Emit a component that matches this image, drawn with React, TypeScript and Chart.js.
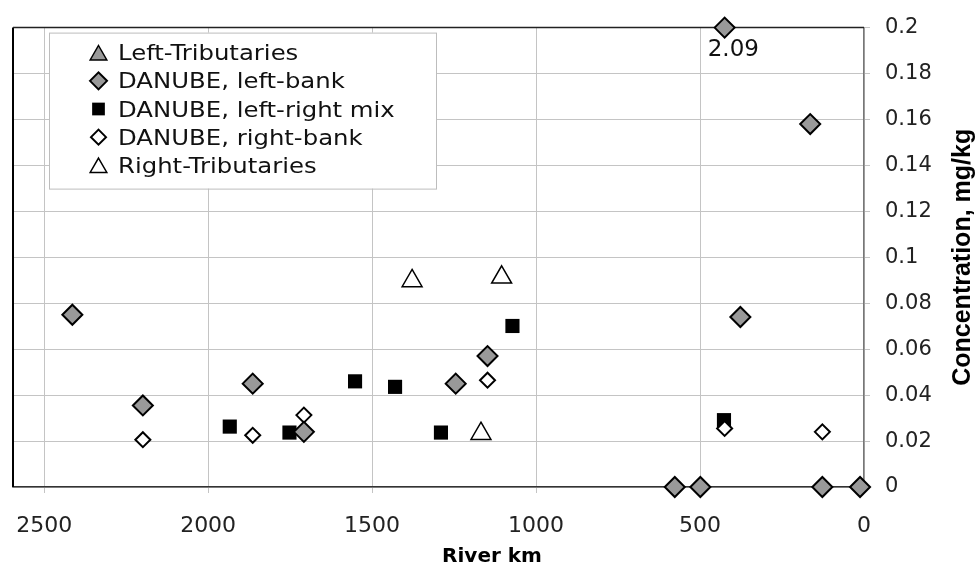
import React, { useEffect, useRef } from 'react';
import { Chart, registerables } from 'chart.js';

Chart.register(...registerables);

// ---------- data ----------
const seriesNames = [
  'Left-Tributaries',
  'DANUBE, left-bank',
  'DANUBE, left-right mix',
  'DANUBE, right-bank',
  'Right-Tributaries',
];

const leftTribKm: number[] = [];
const leftTribVal: number[] = [];

const leftBankKm = [2414, 2199, 1864, 1708, 1245, 1148, 577, 499, 425, 377, 164, 127, 12];
const leftBankVal = [0.075, 0.0355, 0.045, 0.024, 0.045, 0.057, 0, 0, 2.09, 0.074, 0.158, 0, 0];

const mixKm = [1934, 1752, 1552, 1430, 1290, 1072, 427];
const mixVal = [0.0263, 0.0237, 0.046, 0.0436, 0.0237, 0.0701, 0.0291];

const rightBankKm = [2199, 1864, 1708, 1148, 425, 127];
const rightBankVal = [0.0206, 0.0225, 0.0313, 0.0465, 0.0255, 0.024];

const rightTribKm = [1378, 1168, 1105];
const rightTribVal = [0.0897, 0.0232, 0.0913];

const xTicks = [0, 500, 1000, 1500, 2000, 2500];
const yTicks = [0, 0.02, 0.04, 0.06, 0.08, 0.1, 0.12, 0.14, 0.16, 0.18, 0.2];

const X_MIN = 0;
const X_MAX = 2595;
const Y_MIN = 0;
const Y_MAX = 0.2;

const xTitle = 'River km';
const yTitle = 'Concentration, mg/kg';

// ---------- styles ----------
type Sty = { style: string; fill: string; stroke: string; bw: number; r: number; lr: number; order: number };
const styles: Sty[] = [
  { style: 'triangle', fill: '#999999', stroke: '#000', bw: 1.5, r: 11.5, lr: 9.6, order: 0 },
  { style: 'rectRot', fill: '#999999', stroke: '#000', bw: 2, r: 10, lr: 8.5, order: 1 },
  { style: 'rect', fill: '#000000', stroke: '#000', bw: 0, r: 10, lr: 9, order: 4 },
  { style: 'rectRot', fill: '#ffffff', stroke: '#000', bw: 2, r: 7.5, lr: 7.5, order: 2 },
  { style: 'triangle', fill: '#ffffff', stroke: '#000', bw: 1.5, r: 11.5, lr: 9.6, order: 0 },
];

const kms = [leftTribKm, leftBankKm, mixKm, rightBankKm, rightTribKm];
const vals = [leftTribVal, leftBankVal, mixVal, rightBankVal, rightTribVal];

function drawMarker(ctx: CanvasRenderingContext2D, s: Sty, x: number, y: number, r: number) {
  ctx.beginPath();
  if (s.style === 'triangle') {
    ctx.moveTo(x, y - r);
    ctx.lineTo(x + 0.866 * r, y + 0.5 * r);
    ctx.lineTo(x - 0.866 * r, y + 0.5 * r);
    ctx.closePath();
  } else if (s.style === 'rectRot') {
    ctx.moveTo(x - r, y);
    ctx.lineTo(x, y - r);
    ctx.lineTo(x + r, y);
    ctx.lineTo(x, y + r);
    ctx.closePath();
  } else {
    const h = r * Math.SQRT1_2;
    ctx.rect(x - h, y - h, 2 * h, 2 * h);
  }
  ctx.fillStyle = s.fill;
  ctx.fill();
  if (s.bw > 0) {
    ctx.strokeStyle = s.stroke;
    ctx.lineWidth = s.bw;
    ctx.stroke();
  }
}

const decorPlugin = {
  id: 'decor',
  beforeDatasetsDraw(chart: any) {
    const { ctx, chartArea } = chart;
    const { left, top, right, bottom } = chartArea;
    ctx.save();
    // plot frame (left + top)
    ctx.strokeStyle = '#000';
    ctx.lineWidth = 2;
    ctx.beginPath();
    ctx.moveTo(left, bottom);
    ctx.lineTo(left, top);
    ctx.stroke();
    ctx.lineWidth = 1.5;
    ctx.strokeStyle = '#222';
    ctx.beginPath();
    ctx.moveTo(left, top);
    ctx.lineTo(right, top);
    ctx.stroke();

    // legend box
    const bx = left + 36, by = top + 5, bw = 387, bh = 156;
    ctx.fillStyle = '#fff';
    ctx.fillRect(bx, by, bw, bh);
    ctx.strokeStyle = '#bdbdbd';
    ctx.lineWidth = 1;
    ctx.strokeRect(bx + 0.5, by + 0.5, bw, bh);
    ctx.font = '21px "DejaVu Sans"';
    ctx.textAlign = 'left';
    ctx.textBaseline = 'alphabetic';
    seriesNames.forEach((name, i) => {
      const base = by + 27.7 + i * 28.15;
      const cy = base - 7.6;
      const s = styles[i];
      const my = s.style === 'triangle' ? cy + s.lr * 0.25 : cy;
      drawMarker(ctx, s, bx + 49.5, my, s.lr);
      ctx.save();
      ctx.translate(bx + 69, base);
      ctx.scale(1.16, 1);
      ctx.fillStyle = '#111';
      ctx.fillText(name, 0, 0);
      ctx.restore();
    });
    ctx.restore();
  },
  afterDatasetsDraw(chart: any) {
    const { ctx, chartArea } = chart;
    const xs = chart.scales.x;
    const ys = chart.scales.y;
    ctx.save();
    // labels for clipped (off-scale) values
    ctx.font = '23px "DejaVu Sans"';
    ctx.textAlign = 'center';
    ctx.textBaseline = 'alphabetic';
    ctx.fillStyle = '#111';
    kms.forEach((arr, si) => {
      arr.forEach((km, j) => {
        const v = vals[si][j];
        if (v > Y_MAX) {
          const px = xs.getPixelForValue(km);
          const py = ys.getPixelForValue(Y_MAX);
          ctx.fillText(String(v), px + 8.7, py + 28.2);
        }
      });
    });
    // axis titles
    ctx.font = 'bold 20px "DejaVu Sans"';
    ctx.fillStyle = '#000';
    ctx.fillText(xTitle, chart.width / 2 + 4.5, chartArea.bottom + 74.8);
    ctx.translate(chart.width - 5, (chartArea.top + chartArea.bottom) / 2);
    ctx.rotate(-Math.PI / 2);
    ctx.font = 'bold 25px "Liberation Sans"';
    ctx.fillText(yTitle, 0, 0);
    ctx.restore();
  },
};

export default function App() {
  const ref = useRef<HTMLCanvasElement | null>(null);
  useEffect(() => {
    if (!ref.current) return;
    const datasets = seriesNames.map((name, i) => {
      const s = styles[i];
      return {
        label: name,
        data: kms[i].map((km, j) => ({ x: km, y: Math.min(vals[i][j], Y_MAX) })),
        pointStyle: s.style,
        pointRadius: s.r,
        pointBackgroundColor: s.fill,
        pointBorderColor: s.stroke,
        pointBorderWidth: s.bw,
        showLine: false,
        clip: false as any,
        order: s.order,
      };
    });
    const chart = new Chart(ref.current, {
      type: 'scatter',
      data: { datasets },
      options: {
        responsive: false,
        animation: false,
        layout: { padding: { left: 12, top: 23, right: 0, bottom: 0 } },
        plugins: { legend: { display: false }, tooltip: { enabled: false } },
        scales: {
          x: {
            type: 'linear',
            position: 'bottom',
            reverse: true,
            min: X_MIN,
            max: X_MAX,
            afterBuildTicks: (s: any) => {
              s.ticks = xTicks.map((v) => ({ value: v }));
            },
            afterFit: (s: any) => {
              s.height = 77;
            },
            ticks: {
              font: { family: 'DejaVu Sans', size: 22 },
              color: '#222',
              padding: 20,
              maxRotation: 0,
              autoSkip: false,
              callback: (v: any) => String(v),
            },
            grid: { color: '#c4c4c4', lineWidth: 1, tickLength: 6, drawTicks: true },
            border: { color: '#333', width: 1.5 },
          },
          y: {
            type: 'linear',
            position: 'right',
            min: Y_MIN,
            max: Y_MAX,
            afterBuildTicks: (s: any) => {
              s.ticks = yTicks.map((v) => ({ value: v }));
            },
            afterFit: (s: any) => {
              s.width = 111;
            },
            ticks: {
              font: { family: 'DejaVu Sans', size: 21 },
              color: '#222',
              padding: 15,
              autoSkip: false,
              callback: (v: any) => String(Number(Number(v).toFixed(2))),
            },
            grid: { color: '#c4c4c4', lineWidth: 1, tickLength: 6, drawTicks: true },
            border: { color: '#777', width: 1.5 },
          },
        },
      },
      plugins: [decorPlugin],
    });
    return () => chart.destroy();
  }, []);
  return (
    <div style={{ position: 'fixed', left: 0, top: 0, width: 975, height: 564, background: '#fff' }}>
      <canvas ref={ref} width={975} height={564} style={{ display: 'block', width: 975, height: 564 }} />
    </div>
  );
}
